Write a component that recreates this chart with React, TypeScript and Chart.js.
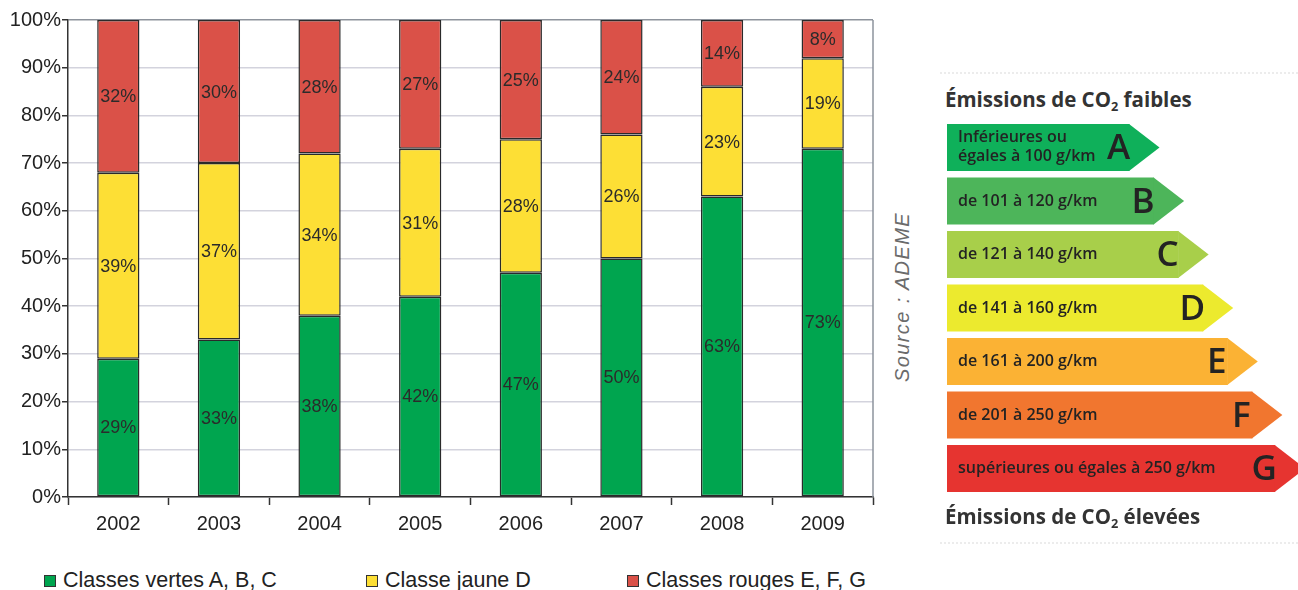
import React, { useEffect, useRef } from "react";
import { Chart, registerables } from "chart.js";

Chart.register(...registerables);

// ---------- Data ----------
const years = ["2002", "2003", "2004", "2005", "2006", "2007", "2008", "2009"];
const classesVertes = [29, 33, 38, 42, 47, 50, 63, 73];
const classeJaune = [39, 37, 34, 31, 28, 26, 23, 19];
const classesRouges = [32, 30, 28, 27, 25, 24, 14, 8];
const seriesLabels = ["Classes vertes A, B, C", "Classe jaune D", "Classes rouges E, F, G"];
const seriesColors = ["#00a54f", "#fddf35", "#da5148"];

const energyClasses = ["A", "B", "C", "D", "E", "F", "G"];
const energyRanges = [
  ["Inférieures ou", "égales à 100 g/km"],
  ["de 101 à 120 g/km"],
  ["de 121 à 140 g/km"],
  ["de 141 à 160 g/km"],
  ["de 161 à 200 g/km"],
  ["de 201 à 250 g/km"],
  ["supérieures ou égales à 250 g/km"],
];
const energyLengths = [52, 59, 66, 73, 80, 87, 93.5];
const energyColors = ["#0fb05a", "#4db55a", "#a8cf4a", "#ecea2e", "#fbb234", "#f1762f", "#e63430"];

const sourceText = "Source : ADEME";
const titleLow = ["Émissions de CO", "2", " faibles"];
const titleHigh = ["Émissions de CO", "2", " élevées"];

const SANS = "'Liberation Sans', Arial, Helvetica, sans-serif";
const OPEN = "'Open Sans', 'Noto Sans', sans-serif";

const barValueLabels = {
  id: "barValueLabels",
  afterDatasetsDraw(chart: any) {
    const ctx = chart.ctx;
    ctx.save();
    ctx.font = `18px ${SANS}`;
    ctx.fillStyle = "#2b2b2b";
    ctx.textAlign = "center";
    ctx.textBaseline = "middle";
    chart.data.datasets.forEach((ds: any, di: number) => {
      const meta = chart.getDatasetMeta(di);
      meta.data.forEach((el: any, i: number) => {
        ctx.fillText(`${ds.data[i]}%`, el.x, (el.y + el.base) / 2 + 1);
      });
    });
    ctx.restore();
  },
};

const frameBorder = {
  id: "frameBorder",
  afterDraw(chart: any) {
    const { ctx, chartArea } = chart;
    ctx.save();
    ctx.strokeStyle = "#8d939c";
    ctx.lineWidth = 1.5;
    ctx.beginPath();
    ctx.moveTo(chartArea.right, chartArea.top);
    ctx.lineTo(chartArea.right, chartArea.bottom);
    ctx.stroke();
    ctx.restore();
  },
};

const arrowShapes = {
  id: "arrowShapes",
  afterDatasetsDraw(chart: any) {
    const ctx = chart.ctx;
    const meta = chart.getDatasetMeta(0);
    ctx.save();
    meta.data.forEach((el: any, i: number) => {
      const h = el.height;
      const top = el.y - h / 2;
      const bottom = el.y + h / 2;
      const tip = 30;
      ctx.fillStyle = energyColors[i];
      ctx.beginPath();
      ctx.moveTo(el.x - 0.5, top);
      ctx.lineTo(el.x + tip, el.y);
      ctx.lineTo(el.x - 0.5, bottom);
      ctx.closePath();
      ctx.fill();

      ctx.fillStyle = "#232323";
      ctx.textAlign = "left";
      ctx.textBaseline = "middle";
      ctx.font = `600 16px ${OPEN}`;
      const lines = energyRanges[i];
      if (lines.length === 2) {
        ctx.fillText(lines[0], el.base + 11, el.y - 10);
        ctx.fillText(lines[1], el.base + 11, el.y + 9);
      } else {
        ctx.fillText(lines[0], el.base + 11, el.y);
      }
      ctx.textAlign = "center";
      ctx.font = `600 35px ${OPEN}`;
      ctx.fillText(energyClasses[i], el.x - 11, el.y + 2);
    });
    ctx.restore();
  },
};

export default function App() {
  const mainRef = useRef<HTMLCanvasElement | null>(null);
  const energyRef = useRef<HTMLCanvasElement | null>(null);

  useEffect(() => {
    const main = new Chart(mainRef.current!, {
      type: "bar",
      data: {
        labels: years,
        datasets: [
          { label: seriesLabels[0], data: classesVertes, backgroundColor: seriesColors[0] },
          { label: seriesLabels[1], data: classeJaune, backgroundColor: seriesColors[1] },
          { label: seriesLabels[2], data: classesRouges, backgroundColor: seriesColors[2] },
        ].map((d) => ({
          ...d,
          borderColor: "#2a2a2a",
          borderWidth: 1.5,
          borderSkipped: false,
          barPercentage: 0.42,
          categoryPercentage: 1,
        })),
      },
      options: {
        responsive: false,
        animation: false,
        layout: { padding: { left: 0, top: 20, right: 7, bottom: 0 } },
        plugins: { legend: { display: false }, tooltip: { enabled: false } },
        scales: {
          x: {
            stacked: true,
            grid: {
              drawOnChartArea: false,
              offset: true,
              tickLength: 8,
              tickColor: "#333",
              tickWidth: 1.5,
            },
            border: { color: "#333", width: 1.5 },
            ticks: { font: { family: SANS, size: 20 }, color: "#222", padding: 7 },
            afterFit(scale: any) {
              scale.height = 43;
            },
          },
          y: {
            stacked: true,
            min: 0,
            max: 100,
            ticks: {
              stepSize: 10,
              callback: (v: any) => `${v}%`,
              font: { family: SANS, size: 20 },
              color: "#222",
              padding: 1,
            },
            grid: {
              color: (c: any) => (c.tick && c.tick.value === 100 ? "#8d939c" : "#d3d3dd"),
              lineWidth: 1.5,
              tickLength: 6,
              tickColor: "#333",
            },
            border: { color: "#333", width: 1.5 },
            afterFit(scale: any) {
              scale.width = 68;
            },
          },
        },
      },
      plugins: [barValueLabels, frameBorder],
    } as any);

    const energy = new Chart(energyRef.current!, {
      type: "bar",
      data: {
        labels: energyClasses,
        datasets: [
          {
            data: energyLengths,
            backgroundColor: energyColors,
            borderWidth: 0,
            barPercentage: 0.88,
            categoryPercentage: 1,
          },
        ],
      },
      options: {
        indexAxis: "y",
        responsive: false,
        animation: false,
        layout: { padding: { left: 7, top: 50.75, right: 0, bottom: 54.75 } },
        plugins: { legend: { display: false }, tooltip: { enabled: false } },
        scales: {
          x: { display: false, min: 0, max: 100 },
          y: { display: false },
        },
      },
      plugins: [arrowShapes],
    } as any);

    return () => {
      main.destroy();
      energy.destroy();
    };
  }, []);

  const legendX = [44, 366, 627];

  return (
    <div style={{ position: "absolute", left: 0, top: 0, width: 1298, height: 590, background: "#fff", overflow: "hidden" }}>
      <canvas
        ref={mainRef}
        width={880}
        height={540}
        style={{ position: "absolute", left: 0, top: 0, width: 880, height: 540 }}
      />
      {seriesLabels.map((label, i) => (
        <div
          key={label}
          style={{
            position: "absolute",
            left: legendX[i],
            top: 568,
            height: 24,
            display: "flex",
            alignItems: "center",
            whiteSpace: "nowrap",
            font: `21.5px ${SANS}`,
            color: "#222",
          }}
        >
          <span
            style={{
              display: "inline-block",
              width: 10,
              height: 10,
              background: seriesColors[i],
              border: "1px solid #333",
              marginRight: 7,
              marginTop: 2,
            }}
          />
          {label}
        </div>
      ))}
      <div
        style={{
          position: "absolute",
          left: 902,
          top: 297,
          transform: "translate(-50%, -50%) rotate(-90deg)",
          whiteSpace: "nowrap",
          font: `italic 20px ${SANS}`,
          letterSpacing: "1.4px",
          color: "#6b6b6b",
          lineHeight: "22px",
        }}
      >
        {sourceText}
      </div>

      <div style={{ position: "absolute", left: 940, top: 72, width: 358, borderTop: "2px dotted #ececec" }} />
      <div style={{ position: "absolute", left: 940, top: 542, width: 358, borderTop: "2px dotted #ececec" }} />
      <div
        style={{
          position: "absolute",
          left: 945,
          top: 87,
          font: `700 20.5px ${OPEN}`,
          lineHeight: "24px",
          color: "#333",
          whiteSpace: "nowrap",
        }}
      >
        {titleLow[0]}
        <span style={{ fontSize: "0.62em", position: "relative", top: "0.3em" }}>{titleLow[1]}</span>
        {titleLow[2]}
      </div>
      <canvas
        ref={energyRef}
        width={358}
        height={480}
        style={{ position: "absolute", left: 940, top: 70, width: 358, height: 480 }}
      />
      <div
        style={{
          position: "absolute",
          left: 945,
          top: 504,
          font: `700 20.5px ${OPEN}`,
          lineHeight: "24px",
          color: "#333",
          whiteSpace: "nowrap",
        }}
      >
        {titleHigh[0]}
        <span style={{ fontSize: "0.62em", position: "relative", top: "0.3em" }}>{titleHigh[1]}</span>
        {titleHigh[2]}
      </div>
    </div>
  );
}
